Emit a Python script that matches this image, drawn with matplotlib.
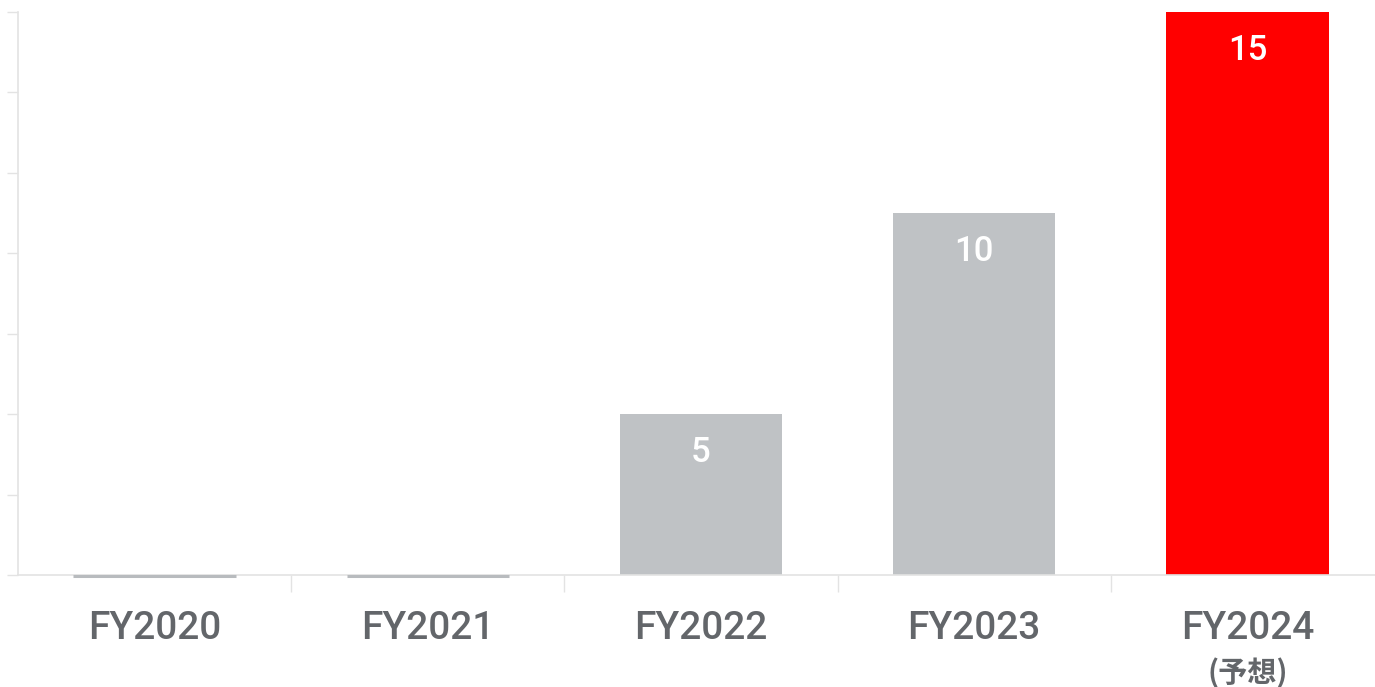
import matplotlib.pyplot as plt
import numpy as np

plt.rcParams['font.family'] = ['Roboto', 'Noto Sans CJK JP', 'DejaVu Sans']

categories = ["FY2020", "FY2021", "FY2022", "FY2023", "FY2024"]
values = [0, 0, 5, 10, 15]
value_labels = ["", "", "5", "10", "15"]
colors = ["#bfc2c5", "#bfc2c5", "#bfc2c5", "#bfc2c5", "#ff0000"]
forecast_note = "(予想)"

text_color = "#63666a"
grid_color = "#e3e3e3"

fig = plt.figure(figsize=(13.75, 6.87), dpi=100)
ax = fig.add_axes([18 / 1375, 112 / 687, 1366 / 1375, 563 / 687])

x = np.arange(len(categories))
bars = ax.bar(x, values, width=0.595, color=colors, linewidth=0)
# zero-value years show as a thin line under the axis
for xi, v in zip(x, values):
    if v == 0:
        ax.plot([xi - 0.2975, xi + 0.2975], [0.97, 0.97], color="#b8bbbe", lw=2.2,
                solid_capstyle="butt", clip_on=False, zorder=3)

for b, lab in zip(bars, value_labels):
    if lab:
        ax.text(b.get_x() + b.get_width() / 2, b.get_height() - 0.55, lab,
                ha="center", va="top", color="white", fontsize=25, fontweight="medium")

ax.set_xlim(-0.5, len(categories) - 0.5)
ax.set_ylim(1, 15)
ax.set_yticks(np.arange(1, 16, 2))
ax.set_yticklabels([])
ax.tick_params(axis="y", length=8, color=grid_color, width=1)

ax.set_xticks(x)
ax.set_xticklabels(categories, fontsize=28, color=text_color, fontweight="medium")
ax.tick_params(axis="x", length=0, pad=25)
ax.set_xticks(np.arange(0.5, len(categories) - 0.5), minor=True)
ax.tick_params(axis="x", which="minor", length=12, color=grid_color, width=1)

ax.text(4.0, -1.05, forecast_note, ha="center", va="top", color=text_color,
        fontsize=21, fontweight="bold", clip_on=False,
        family=['Noto Sans CJK JP', 'DejaVu Sans'])

for side in ["top", "right"]:
    ax.spines[side].set_visible(False)
ax.spines["left"].set_color(grid_color)
ax.spines["bottom"].set_color(grid_color)
ax.spines["left"].set_linewidth(1.2)
ax.spines["bottom"].set_linewidth(1.2)

fig.savefig("out.png", dpi=100)
